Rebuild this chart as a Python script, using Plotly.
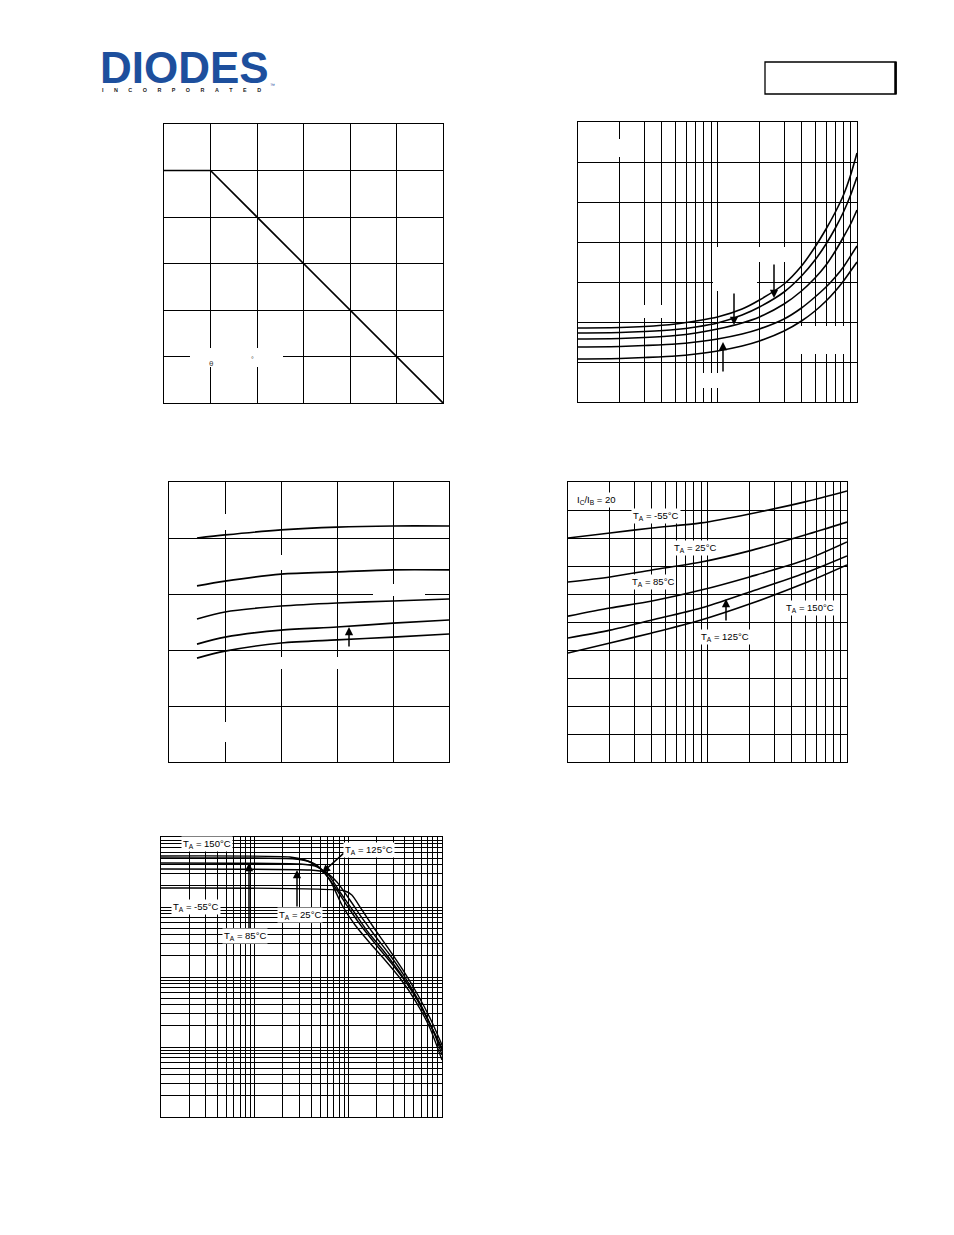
import math
import plotly.graph_objects as go

W, H = 954, 1235          # browser window
OFF = 8                   # default body margin of the page
FW, FH = W - 2 * OFF, H - 2 * OFF

# ---------------- data ----------------
# Panel 1: derating curve
p1_x = [0, 25, 150]
p1_y = [1000, 1000, 0]

# Panel 2: five curves vs log x
p2_x = [1, 2, 3, 5, 7, 10, 15, 20, 30, 40, 50, 60, 70, 80, 90, 100]
p2_c1 = [0.37, 0.3725, 0.3775, 0.39, 0.405, 0.425, 0.465, 0.51, 0.59, 0.68, 0.775, 0.865, 0.95, 1.035, 1.135, 1.245]
p2_c2 = [0.345, 0.3475, 0.3525, 0.3625, 0.375, 0.395, 0.435, 0.475, 0.55, 0.63, 0.71, 0.79, 0.87, 0.95, 1.035, 1.125]
p2_c3 = [0.315, 0.3175, 0.3225, 0.3325, 0.345, 0.365, 0.395, 0.425, 0.49, 0.555, 0.62, 0.685, 0.755, 0.825, 0.89, 0.96]
p2_c4 = [0.275, 0.2775, 0.2825, 0.29, 0.30, 0.315, 0.34, 0.365, 0.415, 0.47, 0.525, 0.575, 0.625, 0.675, 0.73, 0.78]
p2_c5 = [0.215, 0.2175, 0.2225, 0.23, 0.24, 0.255, 0.28, 0.305, 0.355, 0.405, 0.455, 0.505, 0.555, 0.605, 0.655, 0.70]

# Panel 3: five curves vs linear x
p3_x = [5, 10, 20, 30, 40, 50]
p3_c1 = [0.80, 0.811, 0.829, 0.839, 0.843, 0.843]
p3_c2 = [0.629, 0.646, 0.671, 0.679, 0.686, 0.686]
p3_c3 = [0.511, 0.536, 0.557, 0.568, 0.575, 0.582]
p3_c4 = [0.421, 0.446, 0.471, 0.482, 0.496, 0.507]
p3_c5 = [0.371, 0.396, 0.425, 0.436, 0.446, 0.457]

# Panel 4: IC/IB = 20, five temperatures
p4_x = [1, 2, 4, 9, 20, 50, 100]
p4_m55 = [0.80, 0.818, 0.836, 0.854, 0.886, 0.929, 0.968]
p4_25 = [0.643, 0.661, 0.686, 0.714, 0.754, 0.811, 0.857]
p4_85 = [0.521, 0.55, 0.575, 0.614, 0.661, 0.721, 0.786]
p4_125 = [0.443, 0.471, 0.507, 0.55, 0.607, 0.675, 0.736]
p4_150 = [0.389, 0.425, 0.461, 0.507, 0.564, 0.639, 0.704]

# Panel 5: log-log, five temperatures
p5_150_x = [1, 23.8, 34.4, 47.4, 63.6, 85.5, 118, 170, 246, 355, 514, 743, 1000]
p5_150_y = [5354, 5180, 4693, 3853, 2431, 1068, 553, 306, 175, 96.7, 46.9, 18.7, 6.52]
p5_125_x = [1, 26.9, 38.9, 52.3, 71.9, 99, 140, 207, 299, 433, 610, 840, 1000]
p5_125_y = [5012, 4850, 4394, 3378, 1931, 1000, 518, 268, 148, 76.9, 36.1, 14.8, 7.69]
p5_85_x = [1, 30.4, 44, 59.1, 81.4, 115, 162, 234, 338, 489, 690, 1000]
p5_85_y = [4252, 4115, 3853, 3060, 1638, 848, 439, 243, 126, 61.1, 26.0, 9.7]
p5_25_x = [1, 38.9, 56.3, 75.5, 104, 140, 197, 278, 402, 581, 800, 1000]
p5_25_y = [3490, 3378, 3162, 2276, 1259, 697, 373, 206, 100, 42.5, 17.5, 9.06]
p5_m55_x = [1, 91.9, 109, 140, 188, 265, 382, 553, 780, 1000]
p5_m55_y = [1868, 1693, 1484, 906, 501, 260, 126, 55.3, 22.8, 10.7]

# ---------------- layout geometry (page pixels) ----------------
P = {
    1: (164, 124, 443, 403),
    2: (578, 122, 857, 402),
    3: (169, 482, 449, 762),
    4: (568, 482, 847, 762),
    5: (161, 837, 442, 1117),
}

def fx(px):
    return (px - OFF) / FW

def fy(py):
    return 1 - (py - OFF) / FH

def xn(n):
    return "x" if n == 1 else f"x{n}"

def yn(n):
    return "y" if n == 1 else f"y{n}"

fig = go.Figure()
LINE = dict(color="black", width=1.6, shape="spline", smoothing=0.8)

def add(n, x, y, line=None):
    fig.add_trace(go.Scatter(x=x, y=y, mode="lines", line=line or LINE,
                             xaxis=xn(n), yaxis=yn(n), showlegend=False,
                             hoverinfo="skip"))

add(1, p1_x, p1_y, dict(color="black", width=1.6))
for c in (p2_c1, p2_c2, p2_c3, p2_c4, p2_c5):
    add(2, p2_x, c, dict(color="black", width=1.6, shape="spline", smoothing=0.6))
for c in (p3_c1, p3_c2, p3_c3, p3_c4, p3_c5):
    add(3, p3_x, c)
for c in (p4_m55, p4_25, p4_85, p4_125, p4_150):
    add(4, p4_x, c)
for xs, ys in ((p5_150_x, p5_150_y), (p5_125_x, p5_125_y), (p5_85_x, p5_85_y),
               (p5_25_x, p5_25_y), (p5_m55_x, p5_m55_y)):
    add(5, xs, ys, dict(color="black", width=1.4, shape="spline", smoothing=0.6))

def axis(n, kind, rng, dtick, horizontal):
    x0, y0, x1, y1 = P[n]
    if horizontal:
        dom = [fx(x0), fx(x1)]
    else:
        dom = [fy(y1), fy(y0)]
    d = dict(domain=dom, type=kind, range=rng, dtick=dtick, showticklabels=False,
             ticks="", showgrid=True, gridcolor="black", gridwidth=1.1,
             showline=True, linecolor="black", linewidth=1.2, mirror=True,
             zeroline=False, fixedrange=True)
    d["anchor"] = yn(n) if horizontal else xn(n)
    return d

lay = {}
specs = {
    1: (("linear", [0, 150], 25), ("linear", [0, 1200], 200)),
    2: (("log", [0, 2], "D1"), ("linear", [0, 1.4], 0.2)),
    3: (("linear", [0, 50], 10), ("linear", [0, 1.0], 0.2)),
    4: (("log", [0, 2], "D1"), ("linear", [0, 1.0], 0.1)),
    5: (("log", [0, 3], "D1"), ("log", [0, 4], "D1")),
}
for n, (sx, sy) in specs.items():
    kx = "xaxis" if n == 1 else f"xaxis{n}"
    ky = "yaxis" if n == 1 else f"yaxis{n}"
    lay[kx] = axis(n, sx[0], sx[1], sx[2], True)
    lay[ky] = axis(n, sy[0], sy[1], sy[2], False)

shapes = []

def wbox(a, b, c, d):
    shapes.append(dict(type="rect", xref="paper", yref="paper",
                       x0=fx(a), x1=fx(c), y0=fy(d), y1=fy(b),
                       fillcolor="white", line_width=0, layer="above"))

# blank (erased) label areas
wbox(190, 348, 283, 367)
wbox(600, 139, 640, 157)
wbox(635, 305, 670, 318)
wbox(713, 247, 757, 291)
wbox(757, 247, 790, 262)
wbox(700, 373, 722, 388)
wbox(798, 326, 848, 354)
wbox(215, 514, 235, 530)
wbox(215, 722, 235, 742)
wbox(271, 555, 291, 570)
wbox(273, 657, 345, 669)
wbox(373, 584, 425, 596)

# header box
shapes.append(dict(type="rect", xref="paper", yref="paper",
                   x0=fx(765), x1=fx(896), y0=fy(94), y1=fy(62),
                   line=dict(color="black", width=1.3), fillcolor="rgba(0,0,0,0)"))
shapes.append(dict(type="line", xref="paper", yref="paper",
                   x0=fx(895.5), x1=fx(895.5), y0=fy(94), y1=fy(62),
                   line=dict(color="black", width=2.5)))

ann = []
FONT = dict(family="Liberation Sans, Arial, sans-serif", size=9.5, color="black")

def label(text, px, py, bg=True):
    ann.append(dict(text=text, x=fx(px), y=fy(py), xref="paper", yref="paper",
                    showarrow=False, xanchor="center", yanchor="middle", font=FONT,
                    bgcolor="white" if bg else None, borderpad=1))

def arrow(px, py, ax, ay):
    ann.append(dict(text="", x=fx(px), y=fy(py), xref="paper", yref="paper",
                    showarrow=True, ax=ax, ay=ay, arrowhead=2, arrowsize=1.1,
                    arrowwidth=1.5, arrowcolor="black"))

# panel 1 remnants of erased text
ann.append(dict(text="θ", x=fx(207), y=fy(357), xref="paper", yref="paper",
                showarrow=False, font=dict(family="Liberation Sans", size=8, color="#444")))
ann.append(dict(text="°", x=fx(249), y=fy(354), xref="paper", yref="paper",
                showarrow=False, font=dict(family="Liberation Sans", size=7, color="#444")))

# panel 2 arrows
arrow(734, 325, 0, -33)
arrow(774, 298, 0, -35)
arrow(723, 342, 0, 31)
# panel 3 arrow
arrow(349, 627, 0, 21)
# panel 4
label("I<sub>C</sub>/I<sub>B</sub> = 20", 596, 500)
label("T<sub>A</sub> = -55°C", 656, 516)
label("T<sub>A</sub> = 25°C", 695, 548)
label("T<sub>A</sub> = 85°C", 653, 582)
label("T<sub>A</sub> = 150°C", 810, 608)
label("T<sub>A</sub> = 125°C", 725, 637)
arrow(726, 599, 0, 23)
# panel 5
arrow(249, 863, 0, 67)
arrow(297, 870, 0, 38)
arrow(322, 873, 23, -21)
label("T<sub>A</sub> = 150°C", 207, 844)
label("T<sub>A</sub> = -55°C", 196, 907)
label("T<sub>A</sub> = 85°C", 245, 936)
label("T<sub>A</sub> = 25°C", 300, 915)
label("T<sub>A</sub> = 125°C", 369, 850)

# logo
ann.append(dict(text="<b>DIODES</b>", x=fx(98), y=fy(68), xref="paper", yref="paper",
                showarrow=False, xanchor="left", yanchor="middle",
                font=dict(family="Liberation Sans, Arial", size=44, color="#1d4f9d")))
sp = "\u00a0" * 7
ann.append(dict(text="<b>" + sp.join("INCORPORATED") + "</b>", x=fx(100), y=fy(90),
                xref="paper", yref="paper", showarrow=False, xanchor="left",
                yanchor="middle", font=dict(family="Liberation Sans, Arial", size=5.4,
                                            color="#222")))
ann.append(dict(text="™", x=fx(268), y=fy(80), xref="paper", yref="paper",
                showarrow=False, font=dict(family="Liberation Sans", size=5, color="#1d4f9d")))

fig.update_layout(width=FW, height=FH, margin=dict(l=0, r=0, t=0, b=0),
                  paper_bgcolor="white", plot_bgcolor="white",
                  shapes=shapes, annotations=ann, **lay)

fig.write_html("out.html")
